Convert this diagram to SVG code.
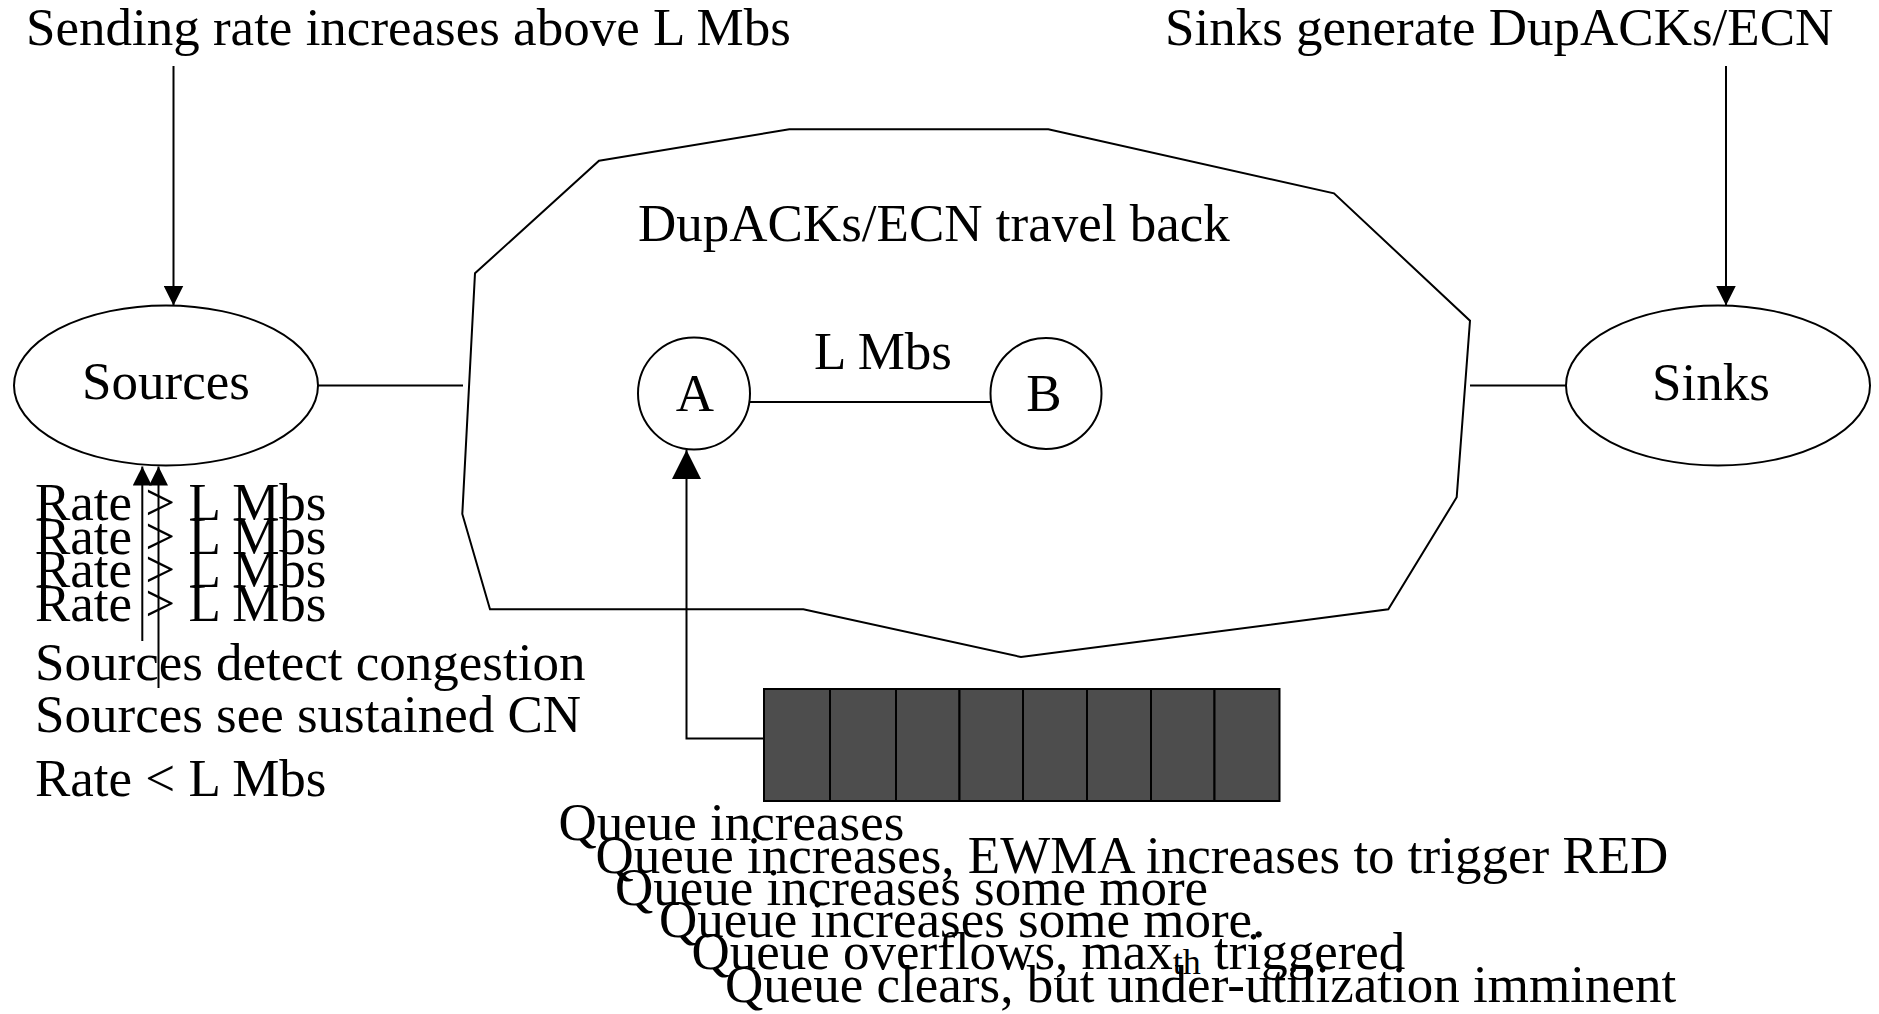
<svg xmlns="http://www.w3.org/2000/svg" width="1879" height="1014" viewBox="0 0 1879 1014">
<style>
text{font-family:"Liberation Serif","Times New Roman",serif;font-size:53px;fill:#000}
.ln{stroke:#000;stroke-width:2;fill:none}
.nd{stroke:#000;stroke-width:2;fill:#fff}
.cell{stroke:#000;stroke-width:2;fill:#4d4d4d}
</style>
<defs>
<marker id="ah20" markerUnits="userSpaceOnUse" viewBox="0 0 20 20" markerWidth="20" markerHeight="20" refX="20" refY="10" orient="auto"><path d="M0,0 L20,10 L0,20 z" fill="#000"/></marker>
<marker id="ah19" markerUnits="userSpaceOnUse" viewBox="0 0 19 19" markerWidth="19" markerHeight="19" refX="19" refY="9.5" orient="auto"><path d="M0,0 L19,9.5 L0,19 z" fill="#000"/></marker>
<marker id="ah29" markerUnits="userSpaceOnUse" viewBox="0 0 29 29" markerWidth="29" markerHeight="29" refX="29" refY="14.5" orient="auto"><path d="M0,0 L29,14.5 L0,29 z" fill="#000"/></marker>
</defs>
<rect width="1879" height="1014" fill="#fff"/>
<g id="network">
<polygon class="ln" points="599,160.7 789.3,129.3 1048.3,129.3 1334,193.3 1470,320.7 1456.7,497.3 1388.3,609.3 1021,657 803.3,609.3 490,609.3 462.3,514 475,273.3"/>
<text x="638" y="241">DupACKs/ECN travel back</text>
</g>
<g id="sources">
<ellipse class="nd" cx="166" cy="385.5" rx="152" ry="80"/>
<text x="166" y="399" text-anchor="middle">Sources</text>
</g>
<g id="sinks">
<ellipse class="nd" cx="1718" cy="385.5" rx="152" ry="80"/>
<text x="1711" y="400" text-anchor="middle">Sinks</text>
</g>
<g id="nodeA">
<circle class="nd" cx="694" cy="393.5" r="56"/>
<text x="695" y="411" text-anchor="middle">A</text>
</g>
<g id="nodeB">
<circle class="nd" cx="1046" cy="393.5" r="55.5"/>
<text x="1044" y="411" text-anchor="middle">B</text>
</g>
<g id="queue">
<rect class="cell" x="764" y="689" width="66" height="112"/>
<rect class="cell" x="830" y="689" width="66" height="112"/>
<rect class="cell" x="896" y="689" width="63.5" height="112"/>
<rect class="cell" x="959.5" y="689" width="63.5" height="112"/>
<rect class="cell" x="1023" y="689" width="64" height="112"/>
<rect class="cell" x="1087" y="689" width="64" height="112"/>
<rect class="cell" x="1151" y="689" width="63.5" height="112"/>
<rect class="cell" x="1214.5" y="689" width="65" height="112"/>
</g>
<g id="connectors">
<line class="ln" x1="173.5" y1="66" x2="173.5" y2="305.5" marker-end="url(#ah20)"/>
<line class="ln" x1="1726" y1="66" x2="1726" y2="305.5" marker-end="url(#ah20)"/>
<line class="ln" x1="318" y1="385.5" x2="463" y2="385.5"/>
<line class="ln" x1="1470" y1="385.5" x2="1566" y2="385.5"/>
<line class="ln" x1="750" y1="402" x2="991" y2="402"/>
<polyline class="ln" points="764,738.5 686.5,738.5 686.5,450" marker-end="url(#ah29)"/>
<line class="ln" x1="142.3" y1="641" x2="142.3" y2="466.5" marker-end="url(#ah19)"/>
<line class="ln" x1="158.5" y1="688" x2="158.5" y2="466.5" marker-end="url(#ah19)"/>
</g>
<g id="labels">
<text x="26" y="45">Sending rate increases above L Mbs</text>
<text x="1165" y="45">Sinks generate DupACKs/ECN</text>
<text x="814" y="369">L Mbs</text>
<text x="35" y="520">Rate &gt; L Mbs</text>
<text x="35" y="553.5">Rate &gt; L Mbs</text>
<text x="35" y="587">Rate &gt; L Mbs</text>
<text x="35" y="621">Rate &gt; L Mbs</text>
<text x="35" y="680">Sources detect congestion</text>
<text x="35" y="732">Sources see sustained CN</text>
<text x="35" y="796">Rate &lt; L Mbs</text>
<text x="558.5" y="840">Queue increases</text>
<text x="595.5" y="872.5">Queue increases, EWMA increases to trigger RED</text>
<text x="615" y="905">Queue increases some more</text>
<text x="659" y="937">Queue increases some more.</text>
<text x="691.5" y="969">Queue overflows, max<tspan font-size="36" dy="5">th</tspan><tspan dy="-5"> triggered</tspan></text>
<text x="725" y="1002">Queue clears, but under-utilization imminent</text>
</g>
</svg>
